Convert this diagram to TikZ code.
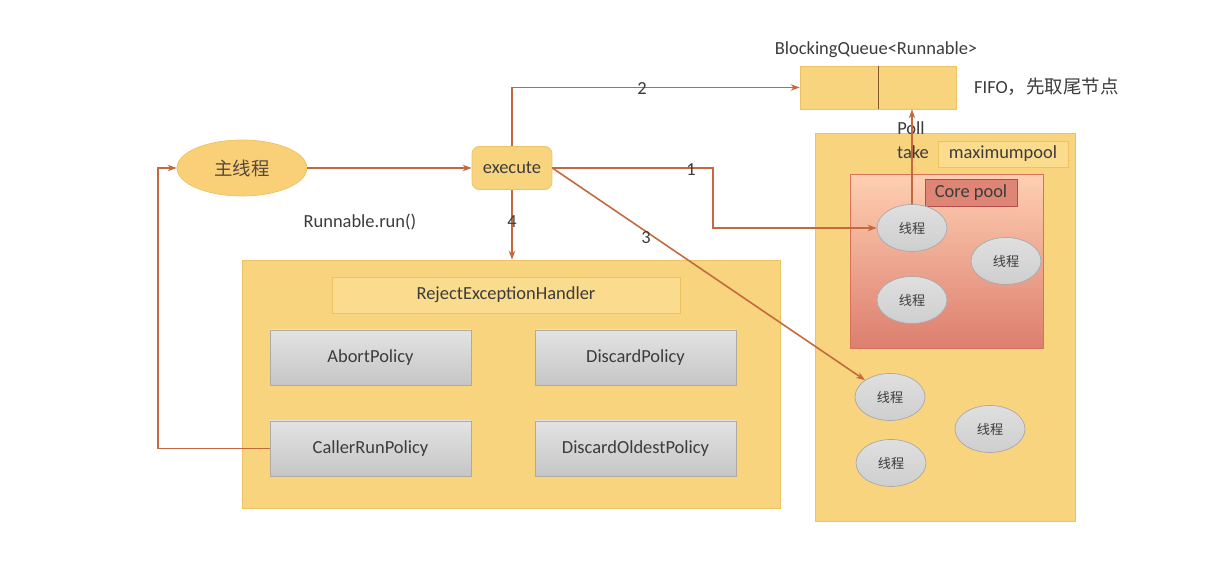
\documentclass[tikz,border=0pt]{standalone}
\usepackage{fontspec}
\setmainfont{Carlito}
\newfontfamily\cjk{Noto Sans CJK SC}
\usepackage{tikz}
\usetikzlibrary{shapes.geometric, arrows.meta, positioning, calc}
\definecolor{wire}{HTML}{C4693D}
\definecolor{amber}{HTML}{F9D47E}
\definecolor{amberdark}{HTML}{EDC262}
\definecolor{amberlight}{HTML}{FBDC8E}
\definecolor{ink}{HTML}{3C3C3C}
\definecolor{slate}{HTML}{A9A9A9}
\definecolor{coral}{HTML}{D8705E}

\begin{document}
\begin{tikzpicture}[x=0.02cm, y=-0.02cm,
    every node/.style={font=\fontsize{10.5}{12}\selectfont\color{ink}},
    panel/.style={rectangle, draw=amberdark, fill=amber, inner sep=0pt},
    tag/.style={rectangle, draw=amberdark, fill=amberlight, inner sep=0pt},
    policy/.style={rectangle, draw=slate!90!amberdark, top color=gray!22, bottom color=gray!45, inner sep=0pt, minimum width=4.02cm, minimum height=1.1cm},
    worker/.style={ellipse, draw=slate, top color=gray!25, bottom color=gray!38, minimum width=1.4cm, minimum height=0.94cm, inner sep=0pt, font=\cjk\fontsize{7.5}{9}\selectfont\color{ink}},
    arr/.style={-{Stealth[length=1.8mm, width=1.3mm]}, line width=0.9pt, draw=wire},
    wirelbl/.style={inner sep=1pt},
  ]
  \useasboundingbox[fill=white] (0,0) rectangle (1215,573);

  % Caller side
  \node[ellipse, draw=amberdark, fill=amber!95!orange, minimum width=2.6cm, minimum height=1.12cm, font=\cjk\fontsize{10.5}{12}\selectfont\color{ink!80!brown}] (mainthr) at (242,168) {主线程};
  \node[rectangle, rounded corners=4pt, draw=amberdark, fill=amber, minimum width=1.6cm, minimum height=0.86cm] (execute) at (512,168) {execute};
  \node (runlbl) at (360,222) {Runnable.run()};

  % Blocking queue
  \node[panel, minimum width=3.12cm, minimum height=0.86cm] (queue) at (878,87.5) {};
  \draw[draw=brown!70!black, line width=0.5pt] (queue.north) -- (queue.south);
  \node (queuelbl) at (876,50) {BlockingQueue<Runnable>};
  \node[anchor=west] (fifo) at (968,87) {FIFO{\cjk ，先取尾节点}};

  % Reject handler
  \node[panel, minimum width=10.76cm, minimum height=4.96cm] (reject) at (511,384) {};
  \node[tag, minimum width=6.96cm, minimum height=0.72cm] (rejlbl) at (506,295) {RejectExceptionHandler};
  \node[policy] (abort) at (370.5,357.5) {AbortPolicy};
  \node[policy] (discard) at (635.5,357.5) {DiscardPolicy};
  \node[policy] (caller) at (370.5,448.5) {CallerRunPolicy};
  \node[policy] (oldest) at (635.5,448.5) {DiscardOldestPolicy};

  % Thread pool
  \node[panel, minimum width=5.2cm, minimum height=7.76cm] (maxpool) at (945,327) {};
  \node[tag, minimum width=2.6cm, minimum height=0.52cm] (maxlbl) at (1003,154) {maximumpool};
  \node[rectangle, draw=coral, top color=red!25!orange!30, bottom color=coral!90, inner sep=0pt, minimum width=3.86cm, minimum height=3.48cm] (core) at (946.5,261) {};
  \node[rectangle, draw=red!60!black!70, fill=coral!85!white, inner sep=0pt, minimum width=1.84cm, minimum height=0.54cm] (corelbl) at (971,192.5) {Core pool};
  \node[worker] (t1) at (912,228) {线程};
  \node[worker] (t2) at (1006,261) {线程};
  \node[worker] (t3) at (912,300) {线程};
  \node[worker] (t4) at (890,397) {线程};
  \node[worker] (t5) at (990,429) {线程};
  \node[worker] (t6) at (891,463) {线程};
  \node (poll) at (911,128) {Poll};
  \node (take) at (913,152) {take};

  % Connectors
  \coordinate (bend1) at (713,168);
  \coordinate (back) at (158,448.5);
  \draw[arr] (mainthr.east) -- (execute.west);
  \draw[arr] (execute.east) -- (bend1) |- (t1.west);
  \draw[arr] (execute.north) |- (queue.west);
  \draw[arr] (execute.east) -- (t4.north west);
  \draw[arr] (execute.south) -- (execute.south |- reject.north);
  \draw[arr] (t1.north) -- (t1.north |- queue.south);
  \draw[arr] (caller.west) -- (back) |- (mainthr.west);
  \node[wirelbl] (lbl1) at (691,170) {1};
  \node[wirelbl] (lbl2) at (642,89) {2};
  \node[wirelbl] (lbl3) at (646,238) {3};
  \node[wirelbl] (lbl4) at (512,222) {4};
\end{tikzpicture}
\end{document}
